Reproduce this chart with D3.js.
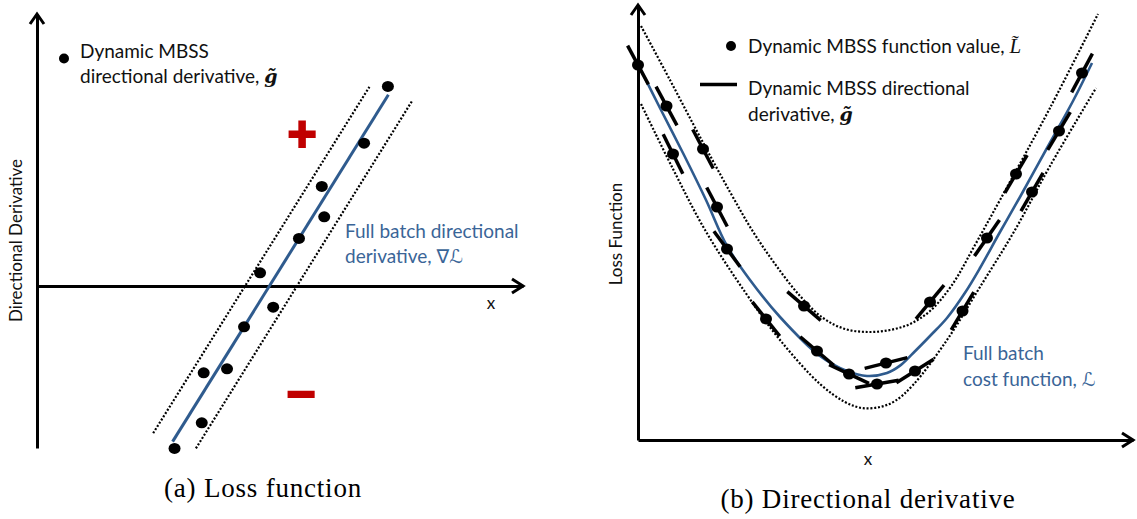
<!DOCTYPE html>
<html><head><meta charset="utf-8">
<script src="https://cdn.jsdelivr.net/npm/d3@7"></script>
<style>
html,body{margin:0;padding:0;background:#fff;}
svg{display:block;}
</style></head><body>
<svg id="chart" width="1137" height="519"></svg>
<script>
// ---------- Panel (a): directional derivative vs x ----------
const aDotX = [2.83, 3.39, 3.43, 3.91, 4.26, 4.86, 4.59, 5.39, 5.91, 5.86, 6.73, 7.22];
const aDotY = [-4.06, -3.42, -2.17, -2.07, -1.02, -0.53, 0.33, 1.19, 1.73, 2.49, 3.57, 4.99];
const aFullBatch = [[2.79, -3.89], [7.23, 4.78]];
const aBandUpper = [[2.39, -3.68], [6.84, 4.98]];
const aBandLower = [[3.27, -4.06], [7.73, 4.65]];

// ---------- Panel (b): loss function vs x ----------
const bDotX = [0.00, 0.576, 0.707, 1.313, 1.596, 1.798, 2.586, 3.354, 3.616, 4.263, 5.01, 4.828, 5.596, 5.899, 6.556, 7.05, 7.636, 7.96, 8.505, 8.97];
const bDotY = [9.375, 8.35, 7.15, 7.275, 5.825, 4.775, 3.025, 3.35, 2.225, 1.65, 1.925, 1.40, 1.725, 3.45, 3.225, 5.05, 6.65, 6.2, 7.725, 9.175];
const bSlope = [-2.31, -2.29, -2.48, -2.35, -2.35, -1.67, -1.55, -1.06, -1.05, -0.58, 0.31, 0.21, 0.78, 1.49, 2.07, 1.79, 2.10, 2.13, 2.07, 2.31];
const bFullBatch = [[0, 9.4], [0.444, 8.3], [0.929, 7.125], [1.374, 6.0], [1.798, 4.85], [2.263, 4.0], [2.869, 3.075], [3.677, 2.1], [4.222, 1.725], [4.626, 1.6], [5.03, 1.675], [5.293, 1.86], [5.556, 2.17], [5.899, 2.6], [6.242, 3.05], [6.606, 3.68], [6.909, 4.3], [7.313, 5.2], [7.717, 6.075], [8.263, 7.3], [8.788, 8.475], [9.172, 9.425]];
const bBandUpper = [[0.061, 10.35], [0.646, 9.0], [1.253, 7.575], [1.859, 6.2], [2.303, 5.25], [2.768, 4.4], [3.273, 3.6], [3.737, 3.05], [4.182, 2.775], [4.646, 2.7], [5.091, 2.75], [5.495, 2.9], [5.899, 3.225], [6.343, 3.875], [6.808, 4.875], [7.313, 6.0], [8.323, 8.3], [9.293, 10.65]];
const bBandLower = [[0.061, 8.4], [0.687, 6.825], [1.354, 5.25], [2.162, 3.7], [2.869, 2.5], [3.677, 1.4], [4.182, 0.95], [4.525, 0.8], [4.889, 0.825], [5.192, 0.975], [5.556, 1.375], [6.242, 2.5], [6.909, 3.825], [7.616, 5.25], [8.323, 6.85], [9.253, 8.8]];

const BLUE = "#2F5B8E", BLUE_TEXT = "#3A6597", RED = "#C00000";
const SANS = "Lato, 'Open Sans', sans-serif";
const SERIF = "'Liberation Serif', 'DejaVu Serif', serif";

const svg = d3.select("#chart");

function arrowHead(g, tipX, tipY, dir) {
  const p = d3.path();
  if (dir === "up") { p.moveTo(tipX - 7, tipY + 10); p.lineTo(tipX, tipY); p.lineTo(tipX + 7, tipY + 10); }
  else { p.moveTo(tipX - 11, tipY - 7); p.lineTo(tipX, tipY); p.lineTo(tipX - 11, tipY + 7); }
  g.append("path").attr("d", p.toString()).attr("fill", "none").attr("stroke", "#000").attr("stroke-width", 3);
}

// ================= Panel (a) =================
{
  const x = d3.scaleLinear().domain([0, 10]).range([37, 523]);
  const y = d3.scaleLinear().domain([-4.05, 6.8]).range([448, 14]);
  const g = svg.append("g");

  const xAxis = g.append("g").attr("transform", `translate(0,${y(0)})`)
    .call(d3.axisBottom(x).tickValues([]).tickSizeOuter(0));
  const yAxis = g.append("g").attr("transform", `translate(${x(0)},0)`)
    .call(d3.axisLeft(y).tickValues([]).tickSizeOuter(0));
  [xAxis, yAxis].forEach(a => a.select(".domain").attr("stroke", "#000").attr("stroke-width", 3));
  arrowHead(g, x(10), y(0), "right");
  arrowHead(g, x(0), y(6.8), "up");

  const line = d3.line().x(d => x(d[0])).y(d => y(d[1]));
  [aBandUpper, aBandLower].forEach(b => g.append("path").attr("d", line(b))
    .attr("fill", "none").attr("stroke", "#000").attr("stroke-width", 2.2).attr("stroke-dasharray", "2,1.8"));
  g.append("path").attr("d", line(aFullBatch)).attr("fill", "none").attr("stroke", BLUE).attr("stroke-width", 3);

  g.selectAll("ellipse.pt").data(d3.range(aDotX.length)).join("ellipse").attr("class", "pt")
    .attr("cx", i => x(aDotX[i])).attr("cy", i => y(aDotY[i])).attr("rx", 6).attr("ry", 5.5).attr("fill", "#000");

  // legend
  g.append("circle").attr("cx", 64).attr("cy", 58.5).attr("r", 5).attr("fill", "#000");
  const lt = g.append("g").attr("font-family", SANS).attr("font-size", 19).attr("fill", "#111");
  lt.append("text").attr("x", 80).attr("y", 58).text("Dynamic MBSS");
  const l2 = lt.append("text").attr("x", 80).attr("y", 83).text("directional derivative, ");
  l2.append("tspan").attr("font-family", "'DejaVu Serif', serif").attr("font-style", "italic").attr("font-weight", "bold").attr("font-size", 19).text("g\u0303");

  const bt = g.append("g").attr("font-family", SANS).attr("font-size", 19).attr("fill", BLUE_TEXT);
  bt.append("text").attr("x", 345).attr("y", 238).text("Full batch directional");
  const b2 = bt.append("text").attr("x", 345).attr("y", 263).text("derivative, ");
  b2.append("tspan").attr("font-style", "italic").attr("font-family", "'DejaVu Sans', sans-serif").text("\u2207\u2112");

  g.append("text").attr("transform", `translate(22,${(158 + 323) / 2}) rotate(-90)`)
    .attr("text-anchor", "middle").attr("font-family", SANS).attr("font-size", 17).attr("fill", "#111")
    .text("Directional Derivative");
  g.append("text").attr("x", 491).attr("y", 309).attr("text-anchor", "middle")
    .attr("font-family", SANS).attr("font-size", 17).attr("fill", "#111").text("x");

  g.append("text").attr("x", 302).attr("y", 151).attr("text-anchor", "middle")
    .attr("font-family", "'Liberation Sans', Arial, sans-serif").attr("font-weight", "bold").attr("font-size", 50)
    .attr("fill", RED).attr("stroke", RED).attr("stroke-width", 2).text("+");
  g.append("text").attr("x", 301).attr("y", 411).attr("text-anchor", "middle")
    .attr("font-family", "'Liberation Sans', Arial, sans-serif").attr("font-weight", "bold").attr("font-size", 50)
    .attr("fill", RED).attr("stroke", RED).attr("stroke-width", 2).text("\u2212");

  g.append("text").attr("x", 263).attr("y", 497).attr("text-anchor", "middle")
    .attr("font-family", SERIF).attr("font-size", 27).attr("letter-spacing", 0.8).attr("fill", "#000")
    .text("(a) Loss function");
}

// ================= Panel (b) =================
{
  const x = d3.scaleLinear().domain([0, 10]).range([638, 1133]);
  const y = d3.scaleLinear().domain([0, 10.875]).range([440, 5]);
  const g = svg.append("g");

  const xAxis = g.append("g").attr("transform", `translate(0,${y(0)})`)
    .call(d3.axisBottom(x).tickValues([]).tickSizeOuter(0));
  const yAxis = g.append("g").attr("transform", `translate(${x(0)},0)`)
    .call(d3.axisLeft(y).tickValues([]).tickSizeOuter(0));
  [xAxis, yAxis].forEach(a => a.select(".domain").attr("stroke", "#000").attr("stroke-width", 3));
  arrowHead(g, x(10), y(0), "right");
  arrowHead(g, x(0), y(10.875), "up");

  const curve = d3.line().x(d => x(d[0])).y(d => y(d[1])).curve(d3.curveCatmullRom.alpha(0.5));
  [bBandUpper, bBandLower].forEach(b => g.append("path").attr("d", curve(b))
    .attr("fill", "none").attr("stroke", "#000").attr("stroke-width", 2.2).attr("stroke-dasharray", "2,1.8"));
  g.append("path").attr("d", curve(bFullBatch)).attr("fill", "none").attr("stroke", BLUE).attr("stroke-width", 2.6);

  // tangent dashes (directional derivative) through each sample
  const kx = x(1) - x(0), ky = y(0) - y(1), half = 22;
  const idx = d3.range(bDotX.length);
  g.selectAll("line.tan").data(idx).join("line").attr("class", "tan")
    .each(function (i) {
      const vx = kx, vy = -bSlope[i] * ky, n = Math.hypot(vx, vy);
      const cx = x(bDotX[i]), cy = y(bDotY[i]);
      d3.select(this).attr("x1", cx - vx / n * half).attr("y1", cy - vy / n * half)
        .attr("x2", cx + vx / n * half).attr("y2", cy + vy / n * half);
    })
    .attr("stroke", "#000").attr("stroke-width", 3.5);
  g.selectAll("ellipse.pt").data(idx).join("ellipse").attr("class", "pt")
    .attr("cx", i => x(bDotX[i])).attr("cy", i => y(bDotY[i])).attr("rx", 6).attr("ry", 5.5).attr("fill", "#000");

  // legend
  g.append("circle").attr("cx", 731).attr("cy", 46).attr("r", 5).attr("fill", "#000");
  g.append("line").attr("x1", 700).attr("x2", 737).attr("y1", 84.5).attr("y2", 84.5).attr("stroke", "#000").attr("stroke-width", 3.5);
  const lt = g.append("g").attr("font-family", SANS).attr("font-size", 19).attr("fill", "#111");
  const t1 = lt.append("text").attr("x", 748).attr("y", 53).text("Dynamic MBSS function value, ");
  t1.append("tspan").attr("font-family", SERIF).attr("font-style", "italic").attr("font-size", 21).text("L\u0303");
  lt.append("text").attr("x", 748).attr("y", 95).text("Dynamic MBSS directional");
  const t3 = lt.append("text").attr("x", 748).attr("y", 121).text("derivative, ");
  t3.append("tspan").attr("font-family", "'DejaVu Serif', serif").attr("font-style", "italic").attr("font-weight", "bold").text("g\u0303");

  const bt = g.append("g").attr("font-family", SANS).attr("font-size", 19).attr("fill", BLUE_TEXT);
  bt.append("text").attr("x", 963).attr("y", 360).text("Full batch");
  const c2 = bt.append("text").attr("x", 963).attr("y", 386).text("cost function, ");
  c2.append("tspan").attr("font-style", "italic").attr("font-family", "'DejaVu Sans', sans-serif").text("\u2112");

  g.append("text").attr("transform", `translate(622,234) rotate(-90)`)
    .attr("text-anchor", "middle").attr("font-family", SANS).attr("font-size", 17).attr("fill", "#111")
    .text("Loss Function");
  g.append("text").attr("x", 868).attr("y", 465).attr("text-anchor", "middle")
    .attr("font-family", SANS).attr("font-size", 17).attr("fill", "#111").text("x");

  g.append("text").attr("x", 868).attr("y", 508).attr("text-anchor", "middle")
    .attr("font-family", SERIF).attr("font-size", 27).attr("letter-spacing", 0.8).attr("fill", "#000")
    .text("(b) Directional derivative");
}
</script>
</body></html>
